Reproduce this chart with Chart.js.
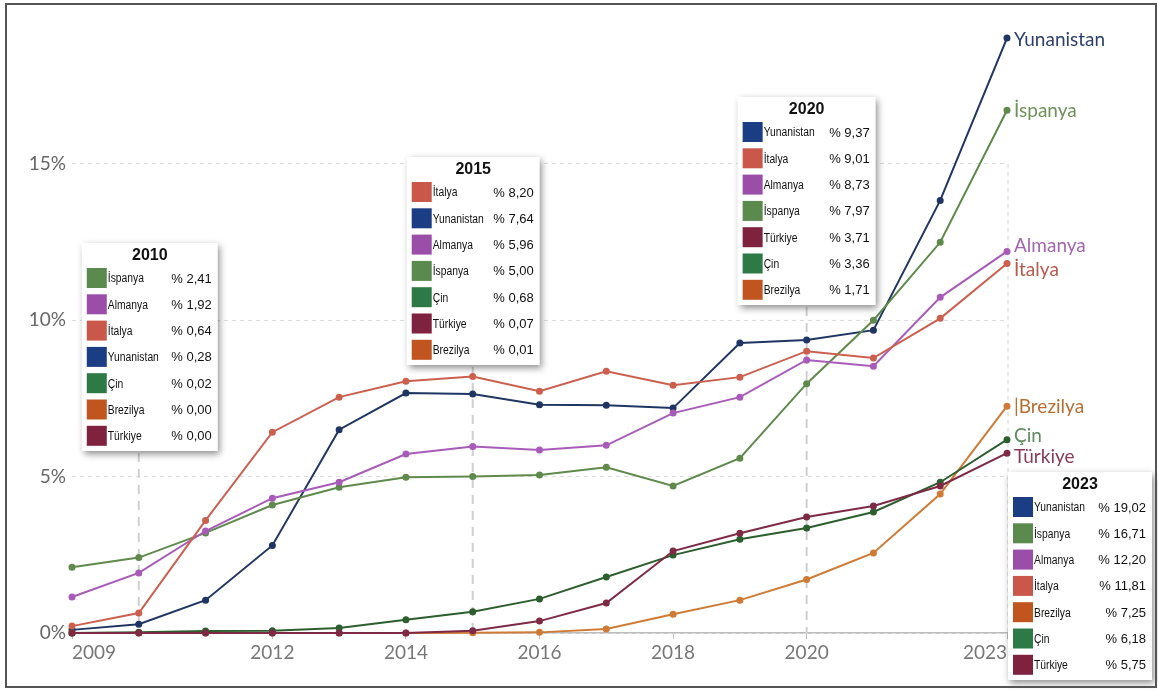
<!DOCTYPE html>
<html>
<head>
<meta charset="utf-8">
<script src="https://cdn.jsdelivr.net/npm/chart.js@4.4.1/dist/chart.umd.min.js"></script>
<style>
  html, body { margin: 0; padding: 0; background: #fff; }
  #wrap { position: relative; width: 1158px; height: 690px; }
  #frame { position: absolute; left: 5px; top: 3px; width: 1148px; height: 681px; border: 2px solid #555; pointer-events: none; }
</style>
</head>
<body>
<div id="wrap">
  <canvas id="chart" width="1158" height="690"></canvas>
  <div id="frame"></div>
</div>
<script>
// years on the x axis and the ones that get a label
const years = [2009, 2010, 2011, 2012, 2013, 2014, 2015, 2016, 2017, 2018, 2019, 2020, 2021, 2022, 2023];
const tickYears = [2009, 2012, 2014, 2016, 2018, 2020, 2023];
const yTicks = [0, 5, 10, 15];

// series, in percent
const countries = ['Yunanistan', 'İspanya', 'Almanya', 'İtalya', 'Brezilya', 'Çin', 'Türkiye'];
const yunanistan = [0.10, 0.28, 1.05, 2.80, 6.50, 7.67, 7.64, 7.30, 7.28, 7.19, 9.27, 9.37, 9.68, 13.83, 19.02];
const ispanya    = [2.10, 2.41, 3.20, 4.09, 4.66, 4.98, 5.00, 5.05, 5.30, 4.70, 5.59, 7.97, 10.00, 12.49, 16.71];
const almanya    = [1.15, 1.92, 3.26, 4.31, 4.82, 5.72, 5.96, 5.85, 6.00, 7.03, 7.54, 8.73, 8.53, 10.73, 12.20];
const italya     = [0.22, 0.64, 3.60, 6.42, 7.54, 8.05, 8.20, 7.73, 8.37, 7.92, 8.18, 9.01, 8.79, 10.06, 11.81];
const brezilya   = [0.00, 0.00, 0.00, 0.00, 0.00, 0.00, 0.01, 0.02, 0.13, 0.60, 1.05, 1.71, 2.56, 4.44, 7.25];
const cin        = [0.00, 0.02, 0.06, 0.07, 0.16, 0.42, 0.68, 1.09, 1.79, 2.49, 3.00, 3.36, 3.87, 4.82, 6.18];
const turkiye    = [0.00, 0.00, 0.00, 0.00, 0.00, 0.00, 0.07, 0.38, 0.96, 2.62, 3.19, 3.71, 4.06, 4.70, 5.75];
const seriesValues = [yunanistan, ispanya, almanya, italya, brezilya, cin, turkiye];

// years that get a value box
const boxYears = [2010, 2015, 2020, 2023];

const lineColors  = ['#1f3563', '#5f8a4c', '#a85bb8', '#cc5f4e', '#cf7a35', '#2c5e2e', '#7e2a45'];
const swatchColors = ['#1b3d84', '#5b8a4e', '#9b4ea8', '#c9584b', '#c0551f', '#2e7a47', '#7f2240'];
const labelColors = ['#2d3f6b', '#6f9158', '#a267ad', '#b8584a', '#b86e30', '#5e8a5e', '#8a3a55'];
const labelShift  = [2, 1, -6, 6, 1, -4, 4];

// where each value box sits, relative to its year
const boxLayout = {
  2010: { dx: -57, top: 243, w: 136 },
  2015: { dx: -66, top: 157, w: 133 },
  2020: { dx: -69, top: 97,  w: 138 },
  2023: { dx: 1,   top: 472, w: 144 }
};

function fmt(v) {
  return '% ' + v.toFixed(2).replace('.', ',');
}

const guidePlugin = {
  id: 'guides',
  beforeDatasetsDraw(chart) {
    const ctx = chart.ctx;
    const x = chart.scales.x;
    const y = chart.scales.y;
    ctx.save();
    ctx.strokeStyle = '#cfcfcf';
    ctx.lineWidth = 2;
    ctx.setLineDash([9, 7]);
    boxYears.forEach(function (yr) {
      if (yr === 2023) return;
      const b = boxLayout[yr];
      const px = x.getPixelForValue(yr);
      ctx.beginPath();
      ctx.moveTo(px, b.top + 210);
      ctx.lineTo(px, y.getPixelForValue(0));
      ctx.stroke();
    });
    // thin dashed line at the right edge
    ctx.strokeStyle = '#d6d6d6';
    ctx.lineWidth = 1;
    ctx.setLineDash([4, 4]);
    const rx = x.getPixelForValue(2023) + 1;
    ctx.beginPath();
    ctx.moveTo(rx, y.getPixelForValue(15));
    ctx.lineTo(rx, y.getPixelForValue(0));
    ctx.stroke();
    ctx.restore();
  },
  afterDatasetsDraw(chart) {
    const ctx = chart.ctx;
    const x = chart.scales.x;
    const y = chart.scales.y;
    ctx.save();

    // names at the end of each line
    ctx.font = '19px Lato';
    ctx.textBaseline = 'middle';
    ctx.textAlign = 'left';
    countries.forEach(function (name, i) {
      const vals = seriesValues[i];
      const py = y.getPixelForValue(vals[vals.length - 1]) + labelShift[i];
      ctx.fillStyle = labelColors[i];
      ctx.fillText(name === 'Brezilya' ? '|Brezilya' : name, x.getPixelForValue(2023) + 7, py);
    });

    // value boxes
    boxYears.forEach(function (yr) {
      const b = boxLayout[yr];
      const idx = years.indexOf(yr);
      const left = x.getPixelForValue(yr) + b.dx;
      const rows = countries.map(function (name, i) {
        return { name: name, value: seriesValues[i][idx], color: swatchColors[i] };
      });
      rows.sort(function (a, c) { return c.value - a.value; });
      const h = 208;

      ctx.save();
      ctx.shadowColor = 'rgba(0,0,0,0.45)';
      ctx.shadowBlur = 7;
      ctx.shadowOffsetX = 2;
      ctx.shadowOffsetY = 3;
      ctx.fillStyle = '#fff';
      ctx.fillRect(left, b.top, b.w, h);
      ctx.restore();

      ctx.fillStyle = '#111';
      ctx.font = 'bold 16px "Liberation Sans"';
      ctx.textAlign = 'center';
      ctx.fillText(String(yr), left + b.w / 2, b.top + 13);

      rows.forEach(function (r, k) {
        const cy = b.top + 35 + k * 26.3;
        ctx.fillStyle = r.color;
        ctx.fillRect(left + 5, cy - 10, 20, 20);
        ctx.fillStyle = '#111';
        // narrow name text
        ctx.save();
        ctx.translate(left + 26, cy + 1);
        ctx.scale(0.86, 1);
        ctx.textAlign = 'left';
        ctx.font = '12px "Liberation Sans"';
        ctx.fillText(r.name, 0, 0);
        ctx.restore();
        ctx.textAlign = 'right';
        ctx.font = '13px "Liberation Sans"';
        ctx.fillText(fmt(r.value), left + b.w - 6, cy + 1);
      });
    });
    ctx.restore();
  }
};

const datasets = countries.map(function (name, i) {
  return {
    label: name,
    data: years.map(function (yr, k) { return { x: yr, y: seriesValues[i][k] }; }),
    borderColor: lineColors[i],
    backgroundColor: lineColors[i],
    borderWidth: 2,
    pointRadius: 2.5,
    pointHoverRadius: 2.5,
    tension: 0
  };
});

const ctx = document.getElementById('chart').getContext('2d');
const myChart = new Chart(ctx, {
  type: 'line',
  data: { datasets: datasets.slice().reverse() },
  options: {
    responsive: false,
    animation: false,
    clip: false,
    layout: { padding: { left: 0, right: 151, top: 0, bottom: 0 } },
    plugins: {
      legend: { display: false },
      tooltip: { enabled: false }
    },
    scales: {
      x: {
        type: 'linear',
        min: 2009,
        max: 2023,
        afterBuildTicks: function (scale) {
          scale.ticks = tickYears.map(function (v) { return { value: v }; });
        },
        afterFit: function (scale) { scale.height = 57; },
        ticks: {
          align: 'inner',
          color: '#777',
          font: { family: 'Lato', size: 19 },
          padding: 2,
          maxRotation: 0,
          callback: function (v) { return String(v); }
        },
        grid: { drawOnChartArea: false, drawTicks: true, tickLength: 6, color: '#bbb' },
        border: { display: true, color: '#bbb', width: 1.5 }
      },
      y: {
        min: 0,
        max: 19.68,
        afterBuildTicks: function (scale) {
          scale.ticks = yTicks.map(function (v) { return { value: v }; });
        },
        afterFit: function (scale) { scale.width = 72; },
        ticks: {
          color: '#666',
          font: { family: 'Lato', size: 19 },
          padding: 6,
          callback: function (v) { return v + '%'; }
        },
        grid: { color: '#dcdcdc', drawTicks: false },
        border: { display: false, dash: [4, 4] }
      }
    }
  },
  plugins: [guidePlugin]
});
</script>
</body>
</html>
